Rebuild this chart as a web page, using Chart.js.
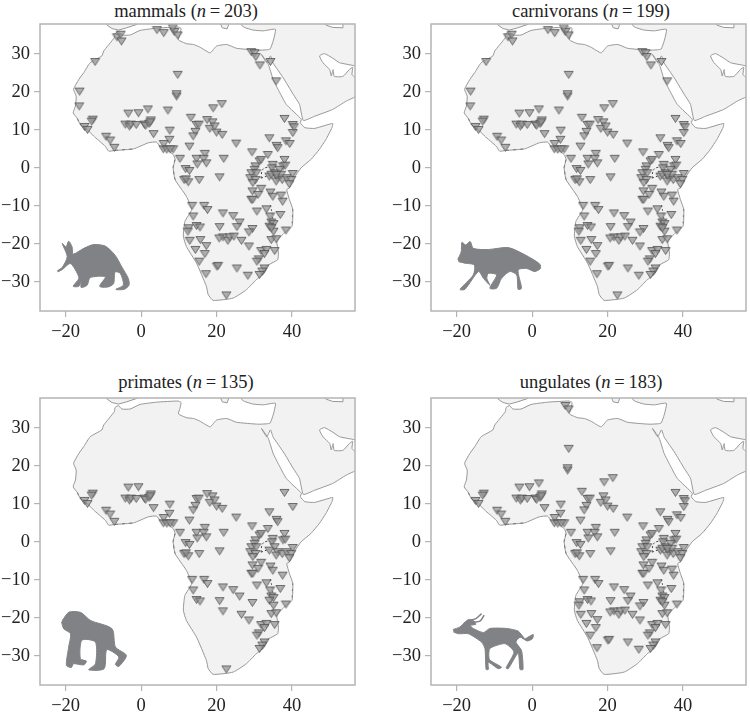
<!DOCTYPE html>
<html>

<head>
    <title>African sites by group</title>
    <meta charset="utf-8">
    <script src="https://cdn.jsdelivr.net/npm/chart.js"></script>
    <style>
        body { margin: 0; background: #fff; }
        canvas { position: absolute; }
        .ttl {
            position: absolute; width: 300px; text-align: center; white-space: pre;
            font: 18.5px "Liberation Serif", serif; color: #222; line-height: 20px;
        }
    </style>
</head>

<body>
    <div class="ttl" style="left:36px;top:1px">mammals (<i>n</i>&#8201;=&#8201;203)</div>
    <div class="ttl" style="left:441px;top:1px">carnivorans (<i>n</i>&#8201;=&#8201;199)</div>
    <div class="ttl" style="left:36px;top:372px">primates (<i>n</i>&#8201;=&#8201;135)</div>
    <div class="ttl" style="left:441px;top:372px">ungulates (<i>n</i>&#8201;=&#8201;183)</div>

    <canvas id="mammals" width="360" height="330" style="left:0;top:14px"></canvas>
    <canvas id="carnivorans" width="360" height="330" style="left:391px;top:14px"></canvas>
    <canvas id="primates" width="360" height="330" style="left:0;top:388px"></canvas>
    <canvas id="ungulates" width="360" height="330" style="left:391px;top:388px"></canvas>

    <script>
        const xTicks = [-20, 0, 20, 40];
        const yTicks = [-30, -20, -10, 0, 10, 20, 30];

        // sites as [longitude, latitude]
        const sitesInAll = [
            [-12.8, 12.6], [-13.1, 12.1], [-15, 10.7], [-14.2, 9.9], [-9.3, 8.1], [-8.2, 7.1], [-7.1, 5.2],
            [-3.4, 14.2], [-0.7, 14.3], [-4.2, 11.3], [-3.1, 10.8], [-2.7, 11.3], [-1.3, 11.2], [0.9, 11.3], [1.2, 11],
            [2.1, 11.5], [2.6, 12.4], [2.4, 11.9], [3.3, 8.8], [7.6, 9.7], [7.5, 7.3], [6, 6.2], [5.9, 4.8], [6.8, 4.7],
            [8.5, 4.8], [7.7, 4.8], [12.8, 5.5], [18.9, 11.9], [18.2, 10.2], [19.5, 10.8], [20, 9.2], [21.5, 8.6],
            [14.7, 11.2], [15.3, 11.3], [14.4, 9.4], [13.8, 8.2], [25.2, 6.3], [29.4, 4], [33.6, 3.3], [34, 7.7],
            [35.9, 5.7], [36.2, 5.1], [38, 12.8], [40.2, 9.1], [38, 2], [10.3, 2.3], [14.7, 2.3], [16.9, 3.6], [16.6, 2.3],
            [14.9, 0.8], [17.3, 1.1], [21.9, 2.3], [20.8, -2.6], [15.4, -3.3], [11.8, -0.4], [12.8, -0.9], [11.4, -3.3],
            [12.5, -3.9], [11.9, -3.1], [30.3, 0.3], [31.4, 1.6], [30.1, -0.6], [29.2, -1.5], [30.5, -1.5], [31.8, 2],
            [28.9, -2.8], [30.3, -3.3], [29.6, -4.1], [29.5, -6.3], [31.8, -5.6], [31, -7.2], [29.2, -8.5], [29.6, -8.5],
            [30.7, -11.6], [34.9, 0.7], [34.7, -0.2], [34, -2.4], [35.4, -1.5], [37.6, 0.3], [38.2, 0.5], [36.2, -2.8],
            [35.8, -3.7], [37.4, -3.3], [38.6, -2.8], [40.2, -1.7], [39.8, -3.3], [39.3, -4.4], [34.3, -6.6], [34.9, -7.7],
            [37.5, -9], [36.9, -12.5], [33.2, -11], [34.2, -12.9], [34.5, -14.5], [35.1, -14.9], [34, -15.6], [35.1, -16.9],
            [38.4, -16.6], [34.5, -19.1], [35.8, -18.9], [31.8, -22], [33.2, -21.7], [32.7, -22.8], [35.4, -22],
            [31.2, -24.2], [30.7, -24.8], [32.7, -26.6], [32.1, -27.4], [31.4, -28.3], [13.5, -10.1], [16.7, -10.1],
            [17.6, -11.2], [13.8, -12.9], [21.7, -12.1], [24.4, -12.8], [26.1, -14.5], [20.8, -15.7], [14.7, -15.4],
            [15.6, -15.8], [29.5, -16.2], [21.7, -18.4], [26.6, -19.3], [28.6, -20.8]
        ];
        const sitesNoPrimates = [
            [1.8, 15.3], [19.1, 15.6], [21.4, 16.7], [13.2, 13.1], [9.7, 24.4], [9.4, 18.7], [9.4, 19.3], [8.8, 35.7],
            [9.7, 34.8], [38.4, 6.9], [39.4, 6.2], [40.2, 11.2], [40.5, 10.6], [12.6, -16], [12.4, -16.9], [12.9, -19.3],
            [15.7, -19.1], [17.3, -20.7], [14.4, -21.7], [16.9, -22.8], [15.4, -24.8], [17.2, -28.1], [20.7, -18.7],
            [23, -19.3], [23.5, -18.4], [24.6, -18.2], [20.1, -26.1], [20.4, -25.9], [25.4, -26.6], [28.3, -28.5],
            [28.6, -17.1], [25.4, -15.7], [37.1, -7.4], [36.7, -0.6], [34.5, -1.9], [37.1, -1.9], [35.8, -1.9], [34.5, -16]
        ];
        const sitesNoUngulates = [[17.5, 12.5], [22.6, -33.7]];
        const sitesNoPrimatesNoUngulates = [
            [-6.4, 34.3], [-5.4, 35], [-5.2, 33.2], [4.2, 36.2], [6, 35.4], [8.4, 36.7], [-12.2, 27.8], [29.2, 30.4],
            [30.1, 30.1], [30.4, 29.1], [31.5, 26.9], [34.3, 27.8], [35.8, 22.7], [-16.3, 20], [-16.4, 16.1], [7.1, 15]
        ];

        // land outlines, same [longitude, latitude] units
        const mainLand = [
            [60, 39], [26.6, 39], [26.6, 37.5], [27.4, 36.9], [29.7, 36.2], [32.4, 36], [35.6, 36.4], [35, 33.3], [34.2, 31.2],
            [33.3, 31], [31, 30.9], [25.3, 31.4], [22.7, 32.4], [20, 32], [18.3, 30.2], [15.6, 31.7], [13.9, 32.4], [12.1, 32.6],
            [9.9, 33.6], [10.3, 35.1], [10.6, 36.6], [9.8, 37], [4.1, 36.7], [-0.3, 36.1], [-2.9, 34.9], [-5.1, 34.9], [-6, 35.8],
            [-6.9, 35.3], [-7.1, 34.2], [-9.9, 30.7], [-10.4, 29.4], [-13.5, 27.6], [-15.2, 25], [-16.5, 23.2], [-17.9, 20.6],
            [-17.2, 18.8], [-17.4, 16.2], [-18, 14.4], [-16.9, 12.9], [-16.1, 11.3], [-14.3, 10], [-12.6, 8.3], [-9.5, 5.6],
            [-8.6, 4.3], [-6.9, 4.5], [-2, 4.9], [1.9, 6.5], [4.1, 6.7], [5, 5.6], [6.8, 4.7], [8.5, 3.4], [9, 2.1], [8.5, 0],
            [9, -3.2], [12, -7.6], [13.4, -11.1], [11.6, -14.2], [11.2, -18.1], [12, -20.8], [14.7, -25.2], [17.3, -31.3],
            [17.8, -33.5], [19.1, -35], [24.4, -34.4], [27.9, -32.2], [30.5, -29.6], [32.7, -27.8], [33.2, -26], [36.2, -24.3],
            [36.4, -22.5], [36, -19.4], [38, -17.2], [40, -15.5], [40.2, -11], [39.3, -8.4], [38.6, -5.8], [39.3, -5.4], [40.6, -2.7],
            [42.4, -0.1], [45, 2.1], [47.2, 4.7], [49, 7.4], [50.6, 10.5], [50.8, 11.6], [46, 10.3], [43.4, 10.5], [42.2, 11.8],
            [42.5, 12.7], [38.5, 16.6], [36.3, 20.6], [35, 23.2], [33.7, 27.2], [31.9, 29.8], [33.3, 27.6], [34.3, 29.4], [35, 27.5],
            [37.7, 23.6], [40.3, 19.3], [42, 16.6], [43, 12.4], [46, 13.5], [50.8, 15.3], [54.4, 17.5], [57.4, 18.8], [60, 18.8],
            [60, 23], [57.5, 23.3], [56.8, 23.6], [55.9, 24.5], [56.1, 26.4], [55.2, 25.8], [53.5, 24], [51.2, 24], [50.9, 25.8],
            [50.4, 24.1], [50, 25.8], [48.2, 27.6], [47.3, 29.4], [48.6, 30], [50.8, 28.8], [52.6, 27.6], [56.1, 26.9], [60, 26]
        ];
        const iberia = [[-9.5, 39], [-9, 37.5], [-7.7, 36.6], [-6, 36.2], [-3.8, 36.8], [-1.1, 37.7], [-0.8, 39]];
        const greece = [[20.8, 38.5], [21.5, 36.8], [22.8, 36.5], [23.5, 38.5]];
        const caspian = [[48.2, 38.5], [49, 37.5], [50.8, 36.9], [53.5, 36.8], [53.5, 38.5]];
        const lakeVictoria = [[31.8, -2.8], [32, -1], [32.6, -0.2], [34, 0.1], [34.5, -0.5]];
        const lakeVictoriaSouth = [[31.8, -2.8], [33.2, -2.3], [34, -2]];
        const lakeMalawi = [[34.3, -9.9], [34.6, -11.5], [35, -14]];
        const darkCoastWest = [[-16.9, 12.9], [-16.1, 11.3], [-14.3, 10]];
        const darkCoastGuinea = [[-6.9, 4.5], [-2, 4.9]];
        const darkCoastGabon = [[9, 2.1], [8.5, 0], [9, -3.2]];
        const darkCoastEast = [[40.2, -11], [40, -15.5]];

        // silhouettes
        const aardvark = [
            [-22.2, -27.2], [-20.9, -26.3], [-19.6, -23.5], [-20.9, -20], [-19.9, -20.9], [-19.2, -19.4], [-18.3, -20.9], [-18, -22.8],
            [-15.2, -21.3], [-12.6, -20.3], [-9.5, -20.7], [-6.9, -23.1], [-5.1, -26.2], [-3.4, -29.2], [-3.2, -31], [-4.5, -32.1],
            [-6.7, -32.1], [-4.7, -31], [-5.5, -27.9], [-6.9, -27.5], [-7.3, -30.6], [-8.9, -31.5], [-11, -31.3], [-9.5, -28.8],
            [-13.5, -29], [-14.3, -31], [-15.9, -31.6], [-15.9, -30.1], [-16.5, -31.3], [-18, -31.3], [-16.5, -29.2], [-17.4, -27],
            [-18.8, -25.3], [-20.9, -26.9], [-22.1, -27.5]
        ];
        const fox = [
            [-19.7, -24.2], [-18.8, -22.2], [-18.6, -19.7], [-17.6, -20.4], [-16.4, -19.5], [-15.6, -21.3], [-11.6, -21.6], [-6.3, -21.1],
            [-1.9, -23], [2, -25.4], [2.2, -26.6], [0.7, -27.4], [-1.5, -26.6], [-3.7, -27], [-2.8, -31.8], [-3.7, -32.1], [-4.1, -28.3],
            [-5.9, -27.4], [-8.1, -29.2], [-9.4, -31.8], [-11.2, -31.8], [-9.4, -28.3], [-11.6, -27.9], [-12, -29.2], [-11.2, -31],
            [-12.9, -29.2], [-14.2, -27.4], [-17.8, -32.1], [-19.1, -32.1], [-15.6, -28.3], [-15.3, -25.7], [-17.8, -25.2], [-19.5, -24.8]
        ];
        const chimp = [
            [-20.9, -20.8], [-19.1, -18.6], [-16, -18.7], [-13.4, -20.8], [-7.7, -23], [-6.8, -27.8], [-3.9, -30], [-5.9, -32.9],
            [-6.8, -32.4], [-5.9, -30.4], [-9.1, -28.5], [-9.8, -33.5], [-13.9, -33.8], [-12.1, -32.2], [-12.1, -26.5], [-15.7, -26],
            [-16.1, -30.9], [-14.5, -31.5], [-15.2, -32.5], [-17.9, -32.2], [-18.5, -33.2], [-19.8, -32.6], [-19.2, -27.8], [-18.7, -24.3],
            [-20.5, -23], [-21.1, -21.2]
        ];
        const antelope = [
            [-21, -23.2], [-19.1, -22.5], [-17.8, -21.2], [-16.9, -20.6], [-15.6, -20.8], [-14.9, -21.8], [-16.4, -22.1], [-15.6, -22.9],
            [-12.9, -24], [-11.2, -22.9], [-6.8, -22.9], [-3.7, -23.6], [-1.9, -25.6], [-1.1, -25.2], [0.3, -24.5], [0.1, -25.6],
            [-1.3, -26.2], [-3.2, -25.2], [-4.3, -26.5], [-2.8, -28.7], [-2.4, -33.7], [-3.2, -33.7], [-3.7, -29.4], [-6.3, -33.5],
            [-6.9, -33.3], [-4.8, -29.1], [-7.2, -26.9], [-11.2, -28.2], [-11.3, -31.1], [-8.1, -33.1], [-9, -33.5], [-11.6, -31.8],
            [-11.6, -33.7], [-12.2, -33.7], [-12.5, -28.2], [-13.4, -26.5], [-16.9, -24.3], [-19.5, -24.3], [-20.8, -23.9]
        ];
        const antelopeHornA = [[-17, -20.8], [-14.9, -20.3], [-13.4, -19]];
        const antelopeHornB = [[-15.6, -21.2], [-13.8, -21], [-12.7, -19.4]];

        const toXY = arr => arr.map(p => ({ x: p[0], y: p[1] }));

        // downward triangle, centred on its box so the site sits in the middle of the mark
        const marker = document.createElement("canvas");
        marker.width = 11;
        marker.height = 10;
        const mctx = marker.getContext("2d");
        mctx.beginPath();
        mctx.moveTo(1, 1.5);
        mctx.lineTo(10, 1.5);
        mctx.lineTo(5.5, 8.5);
        mctx.closePath();
        mctx.fillStyle = "rgba(150,150,150,0.75)";
        mctx.fill();
        mctx.strokeStyle = "rgba(75,75,75,0.75)";
        mctx.lineWidth = 1;
        mctx.stroke();

        const framePlugin = {
            id: "frame",
            afterDatasetsDraw(chart) {
                const a = chart.chartArea;
                const c = chart.ctx;
                c.save();
                c.strokeStyle = "#b4b4b4";
                c.lineWidth = 1.5;
                c.strokeRect(a.left, a.top, a.right - a.left, a.bottom - a.top);
                c.restore();
            }
        };

        function shape(points, fillColor, lineColor, order, tension) {
            return {
                data: toXY(points), showLine: true, fill: "shape", tension: tension, pointRadius: 0, order: order,
                backgroundColor: fillColor, borderColor: lineColor, borderWidth: 1
            };
        }

        function stroke(points, color, width, dash, order) {
            return {
                data: toXY(points), showLine: true, fill: false, tension: 0.3, pointRadius: 0, order: order,
                borderColor: color, borderWidth: width, borderDash: dash
            };
        }

        function makePanel(id, sites, animalSets) {
            const landColor = "#f2f2f2";
            const coast = "#979797";
            new Chart(document.getElementById(id), {
                type: "scatter",
                data: {
                    datasets: [
                        { data: toXY(sites), pointStyle: marker, pointRadius: 4, showLine: false, order: 0 },
                        ...animalSets,
                        stroke(lakeVictoria, "#444", 1, [2, 2], 3),
                        stroke(lakeVictoriaSouth, "#444", 1, [2, 2], 3),
                        stroke(lakeMalawi, "#666", 1, [2, 2], 3),
                        stroke(darkCoastWest, "#777", 1, [3, 3], 3),
                        stroke(darkCoastGuinea, "#777", 1, [3, 4], 3),
                        stroke(darkCoastGabon, "#777", 1, [3, 3], 3),
                        stroke(darkCoastEast, "#777", 1, [2, 4], 3),
                        shape(caspian, "#fff", coast, 4, 0),
                        shape(mainLand, landColor, coast, 5, 0.15),
                        shape(iberia, landColor, coast, 5, 0),
                        shape(greece, landColor, coast, 5, 0)
                    ]
                },
                plugins: [framePlugin],
                options: {
                    responsive: false,
                    animation: false,
                    layout: { padding: { top: 10, right: 4, left: 0, bottom: 0 } },
                    plugins: { legend: { display: false }, tooltip: { enabled: false } },
                    scales: {
                        x: {
                            type: "linear", min: -26.8, max: 56.7,
                            afterBuildTicks: s => { s.ticks = xTicks.map(v => ({ value: v })); },
                            afterFit: s => { s.height = 33; s.paddingLeft = 0; s.paddingRight = 0; },
                            grid: { drawOnChartArea: false, color: "#b4b4b4", tickLength: 6, lineWidth: 1.2 },
                            border: { display: false },
                            ticks: {
                                padding: 4, maxRotation: 0, autoSkip: false, color: "#222",
                                font: { family: "'Liberation Serif'", size: 18.5 },
                                callback: v => String(v).replace("-", "\u2212")
                            }
                        },
                        y: {
                            type: "linear", min: -37.8, max: 37.8,
                            afterBuildTicks: s => { s.ticks = yTicks.map(v => ({ value: v })); },
                            afterFit: s => { s.width = 40; s.paddingTop = 0; s.paddingBottom = 0; },
                            grid: { drawOnChartArea: false, color: "#b4b4b4", tickLength: 6, lineWidth: 1.2 },
                            border: { display: false },
                            ticks: {
                                padding: 4, labelOffset: 1, autoSkip: false, color: "#222",
                                font: { family: "'Liberation Serif'", size: 18.5 },
                                callback: v => String(v).replace("-", "\u2212")
                            }
                        }
                    }
                }
            });
        }

        const animalGrey = "#808285";
        const allMammals = [...sitesInAll, ...sitesNoPrimates, ...sitesNoUngulates, ...sitesNoPrimatesNoUngulates];

        makePanel("mammals", allMammals, [shape(aardvark, animalGrey, animalGrey, 2, 0.25)]);
        makePanel("carnivorans", allMammals, [shape(fox, animalGrey, animalGrey, 2, 0.25)]);
        makePanel("primates", [...sitesInAll, ...sitesNoUngulates], [shape(chimp, animalGrey, animalGrey, 2, 0.25)]);
        makePanel("ungulates", [...sitesInAll, ...sitesNoPrimates], [
            shape(antelope, animalGrey, animalGrey, 2, 0.2),
            stroke(antelopeHornA, animalGrey, 1.5, [], 2),
            stroke(antelopeHornB, animalGrey, 1.5, [], 2)
        ]);
    </script>
</body>

</html>
